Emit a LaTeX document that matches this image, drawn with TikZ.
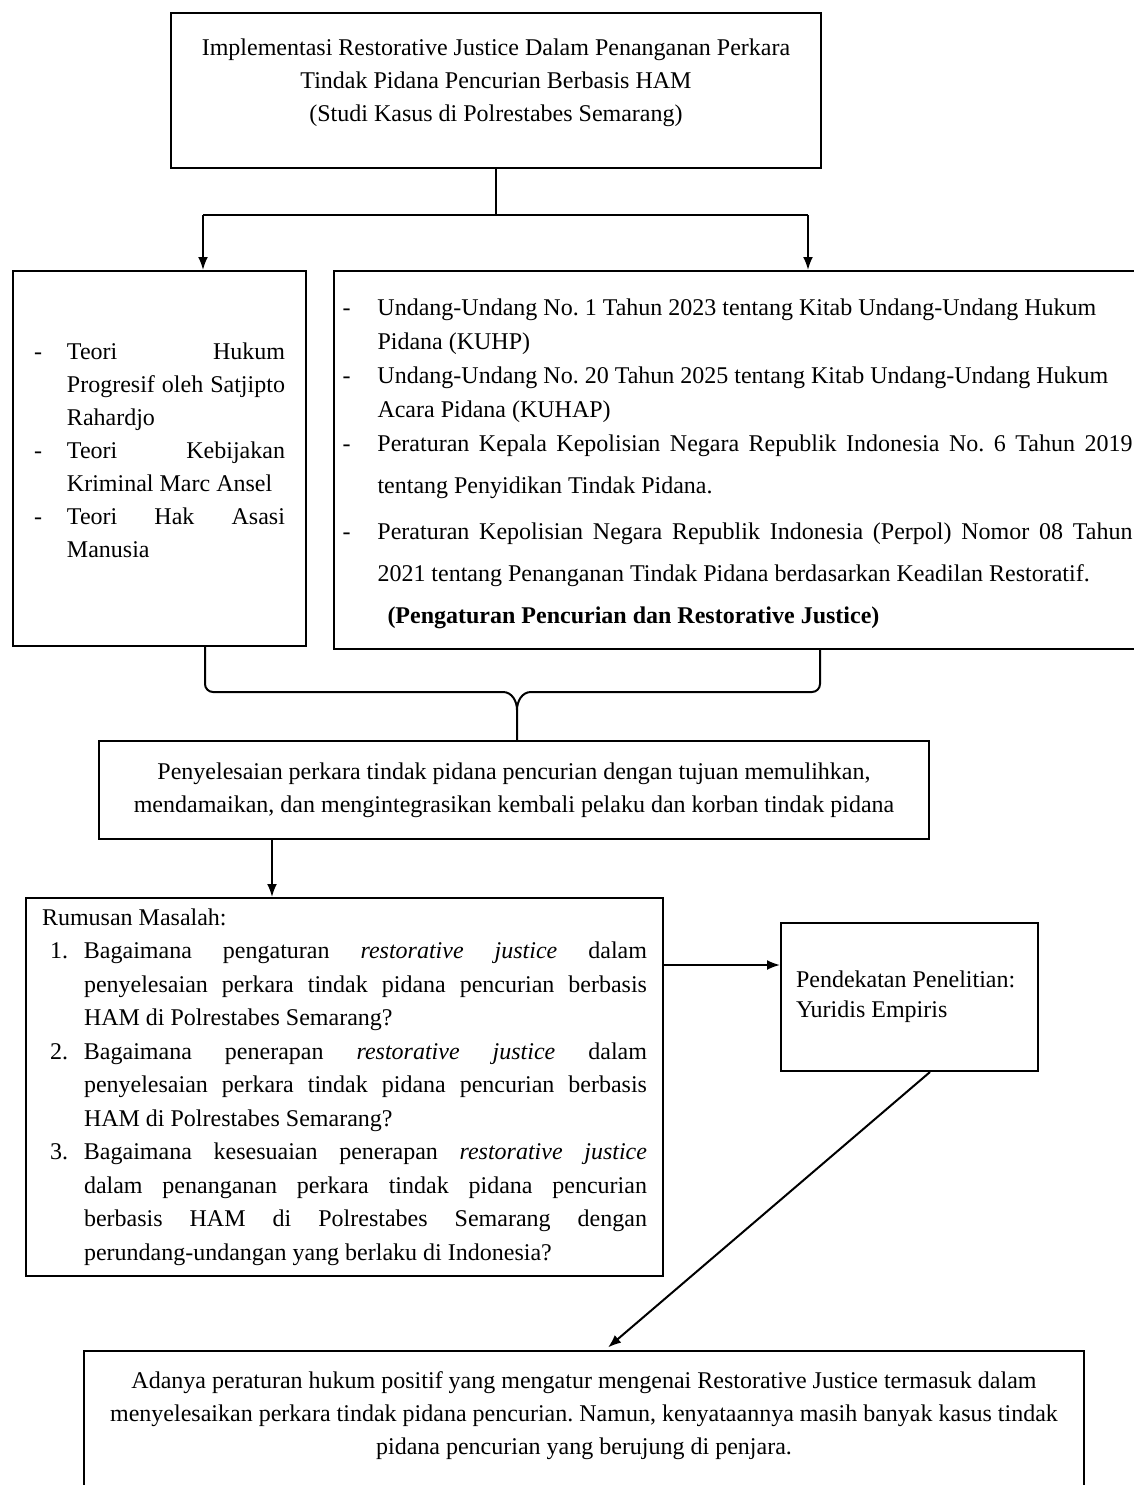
\documentclass[tikz,border=0pt]{standalone}
\usepackage{fontspec}
\setmainfont{Liberation Serif}
\usetikzlibrary{arrows.meta}

\tolerance=10000
\hbadness=10000
\hyphenpenalty=10000
\frenchspacing

\newcommand{\dashitem}[1]{\par\noindent\hangindent=#1\hangafter=1\makebox[#1][l]{-}}
\newcommand{\numitem}[1]{\par\noindent\hangindent=21pt\hangafter=1\hspace*{4pt}\makebox[17pt][l]{#1.}}
\newcommand{\tailgap}[1]{\par\vspace*{#1}\hrule height 0pt}

\begin{document}
\begin{tikzpicture}[x=0.5pt, y=-0.5pt,
  box/.style={draw, line width=1pt, anchor=north west, inner sep=0pt,
              font=\fontsize{12pt}{16.5pt}\selectfont},
  arr/.style={line width=1pt, -{Latex[length=6.5pt,width=5pt]}},
  line/.style={line width=1pt}]
\useasboundingbox (0,0) rectangle (1134,1485);

\node[box, minimum width=325pt, minimum height=77.5pt, text width=320pt, align=flush center] (judul) at (170,12)
  {Implementasi Restorative Justice Dalam Penanganan Perkara\\
   Tindak Pidana Pencurian Berbasis HAM\\
   (Studi Kasus di Polrestabes Semarang)\tailgap{8pt}};

\node[box, minimum width=146.5pt, minimum height=187.5pt, text width=125.5pt, align=justify] (teori) at (12,270)
  {\dashitem{16.5pt}Teori Hukum\linebreak Progresif oleh Satjipto\linebreak Rahardjo
   \dashitem{16.5pt}Teori Kebijakan\linebreak Kriminal Marc Ansel
   \dashitem{16.5pt}Teori Hak Asasi\linebreak Manusia\tailgap{16pt}};

\node[box, minimum width=403.5pt, minimum height=189pt, text width=395pt, align=justify] (dasar) at (333,270)
  {{\fontsize{12pt}{17pt}\selectfont
    \dashitem{17.5pt}Undang-Undang No. 1 Tahun 2023 tentang Kitab Undang-Undang Hukum\newline Pidana (KUHP)
    \dashitem{17.5pt}Undang-Undang No. 20 Tahun 2025 tentang Kitab Undang-Undang Hukum\newline Acara Pidana (KUHAP)\par}
   {\fontsize{12pt}{21pt}\selectfont
    \vspace{-4pt}
    \dashitem{17.5pt}Peraturan Kepala Kepolisian Negara Republik Indonesia No. 6 Tahun 2019\linebreak tentang Penyidikan Tindak Pidana.\par
    \vspace{2pt}
    \dashitem{17.5pt}Peraturan Kepolisian Negara Republik Indonesia (Perpol) Nomor 08 Tahun\linebreak 2021 tentang Penanganan Tindak Pidana berdasarkan Keadilan Restoratif.\par
    \noindent\hspace*{22.5pt}\textbf{(Pengaturan Pencurian dan Restorative Justice)}\par}
   \tailgap{5pt}};

\node[box, minimum width=415pt, minimum height=49pt, align=center] (penyelesaian) at (98,740)
  {Penyelesaian perkara tindak pidana pencurian dengan tujuan memulihkan,\\
   mendamaikan, dan mengintegrasikan kembali pelaku dan korban tindak pidana};

\node[box, minimum width=318.5pt, minimum height=189pt, text width=302.5pt, align=justify,
      font=\fontsize{12pt}{16.75pt}\selectfont] (rumusan) at (25,897)
  {\noindent Rumusan Masalah:
   \numitem{1}Bagaimana pengaturan \emph{restorative justice} dalam\linebreak penyelesaian perkara tindak pidana pencurian berbasis\linebreak HAM di Polrestabes Semarang?
   \numitem{2}Bagaimana penerapan \emph{restorative justice} dalam\linebreak penyelesaian perkara tindak pidana pencurian berbasis\linebreak HAM di Polrestabes Semarang?
   \numitem{3}Bagaimana kesesuaian penerapan \emph{restorative justice}\linebreak dalam penanganan perkara tindak pidana pencurian\linebreak berbasis HAM di Polrestabes Semarang dengan\linebreak perundang-undangan yang berlaku di Indonesia?\par};

\node[box, minimum width=128.5pt, minimum height=74pt, text width=113.5pt, align=flush left,
      font=\fontsize{12pt}{15pt}\selectfont] (pendekatan) at (780,922)
  {Pendekatan Penelitian:\\ Yuridis Empiris};

\node[box, minimum width=500pt, minimum height=72.5pt, text width=490pt, align=flush center] (temuan) at (83,1350)
  {Adanya peraturan hukum positif yang mengatur mengenai Restorative Justice termasuk dalam\\
   menyelesaikan perkara tindak pidana pencurian. Namun, kenyataannya masih banyak kasus tindak\\
   pidana pencurian yang berujung di penjara.\tailgap{8pt}};

\coordinate (cabangL) at (203,215);
\coordinate (cabangR) at (808,215);
\draw[line] (judul.south) -- (judul.south |- cabangL);
\draw[line] (cabangL) -- (cabangR);
\draw[arr] (cabangL) -- (cabangL |- teori.north);
\draw[arr] (cabangR) -- (cabangR |- dasar.north);

\coordinate (kurungL) at (205,692);
\coordinate (kurungR) at (820,692);
\coordinate (kurungM) at (517,692);
\draw[line] (teori.south -| kurungL) -- ([yshift=4pt]kurungL) to[out=-90,in=180] ([xshift=4pt]kurungL)
  -- ([xshift=-7pt]kurungM) to[out=0,in=90] ([yshift=-9pt]kurungM) -- (kurungM |- penyelesaian.north);
\draw[line] (dasar.south -| kurungR) -- ([yshift=4pt]kurungR) to[out=-90,in=0] ([xshift=-4pt]kurungR)
  -- ([xshift=7pt]kurungM) to[out=180,in=90] ([yshift=-9pt]kurungM);

\coordinate (turun) at (272,860);
\draw[arr] (penyelesaian.south -| turun) -- (rumusan.north -| turun);

\coordinate (kanan) at (700,965);
\draw[arr] (rumusan.east |- kanan) -- (pendekatan.west |- kanan);

\coordinate (miringA) at (930,1100);
\coordinate (miringB) at (605,1300);
\draw[arr, shorten >=2pt] (pendekatan.south -| miringA) -- (temuan.north -| miringB);
\end{tikzpicture}
\end{document}
